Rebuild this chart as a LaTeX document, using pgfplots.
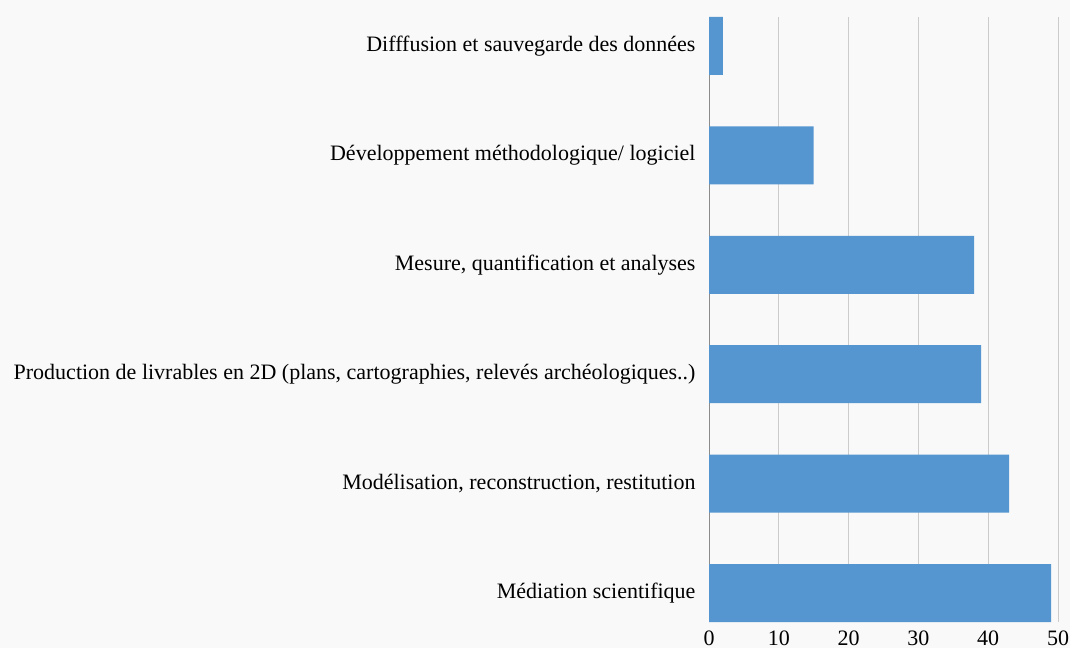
\documentclass[border=0pt]{standalone}
\usepackage{pgfplots}
\pgfplotsset{compat=1.18}
\usepackage{fontspec}
\setmainfont{Liberation Serif}
\definecolor{bg}{HTML}{F9F9F9}
\definecolor{barc}{HTML}{5596D0}
\definecolor{gridc}{HTML}{CCCCCC}
\definecolor{axc}{HTML}{8C8C8C}
\begin{document}
\begin{tikzpicture}[x=1pt,y=1pt]
\fill[bg] (0,0) rectangle (1070,648);
\begin{axis}[
  at={(709pt,26pt)}, anchor=south west,
  scale only axis, width=349pt, height=605pt,
  xbar, bar width=58pt,
  xmin=0, xmax=50, ymin=-0.265, ymax=5.265,
  xtick={0,10,20,30,40,50},
  ytick={0,1,2,3,4,5},
  yticklabels={Médiation scientifique,
    {Modélisation, reconstruction, restitution},
    {Production de livrables en 2D (plans, cartographies, relevés archéologiques..)},
    {Mesure, quantification et analyses},
    Développement méthodologique/ logiciel,
    Difffusion et sauvegarde des données},
  xmajorgrids, major grid style={gridc, line width=0.8pt},
  axis lines*=left,
  x axis line style={draw=none},
  y axis line style={axc, line width=0.8pt, -},
  major tick length=0pt,
  tick style={draw=none},
  ticklabel style={font=\rmfamily\fontsize{22}{24}\selectfont, text=black},
  yticklabel style={xshift=-10pt},
  xticklabel style={yshift=-5pt},
  /pgf/number format/assume math mode=true,
  axis background/.style={fill=bg},
]
\addplot[fill=barc, draw=none] coordinates {(49,0) (43,1) (39,2) (38,3) (15,4) (2,5)};
\end{axis}
\pgfresetboundingbox
\path[use as bounding box] (0,0) rectangle (1070,648);
\end{tikzpicture}
\end{document}
